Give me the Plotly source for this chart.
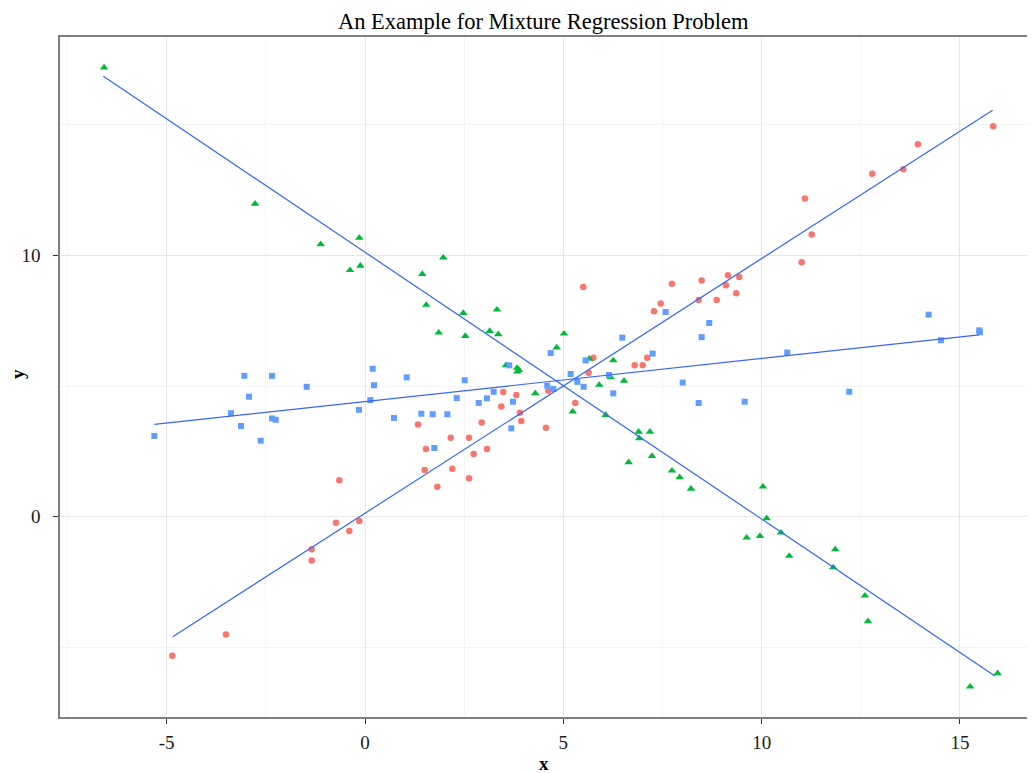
import plotly.graph_objects as go

# Group 1 (red circles)
red_x = [-4.858, -3.504, -1.344, -1.344, -0.731, -0.396, -0.144, -0.648, 1.336, 1.538,
         1.505, 1.823, 2.160, 2.201, 2.622, 2.622, 2.740, 2.942, 3.075, 3.436,
         3.486, 3.814, 3.907, 3.940, 4.563, 4.621, 5.301, 5.639, 5.503, 5.755,
         6.799, 7.000, 7.116, 7.285, 7.454, 7.739, 8.488, 8.412, 8.866, 9.100,
         9.151, 9.436, 9.360, 11.092, 11.261, 11.009, 12.788, 13.570, 13.940, 15.838]
red_y = [-5.32, -4.50, -1.24, -1.67, -0.23, -0.55, -0.16, 1.40, 3.53, 2.59,
         1.79, 1.15, 3.02, 1.84, 3.02, 1.47, 2.40, 3.60, 2.59, 4.22,
         4.77, 4.66, 3.98, 3.66, 3.40, 4.82, 4.35, 5.51, 8.79, 6.08,
         5.79, 5.79, 6.08, 7.86, 8.16, 8.91, 9.04, 8.29, 8.29, 8.85,
         9.24, 9.17, 8.55, 12.17, 10.80, 9.73, 13.12, 13.29, 14.25, 14.94]

# Group 2 (green triangles)
green_x = [-6.579, -2.773, -1.117, -0.144, -0.378, -0.118, 1.974, 1.444, 1.545, 2.478,
           3.327, 1.858, 2.528, 3.143, 3.360, 3.554, 3.832, 3.882, 3.839, 4.293,
           5.016, 4.832, 5.654, 6.259, 5.906, 6.194, 6.529, 5.236, 6.068, 6.899,
           7.184, 6.915, 7.235, 6.647, 7.739, 7.933, 8.218, 10.033, 10.126, 9.622,
           9.957, 10.487, 10.696, 11.855, 11.805, 12.604, 12.680, 15.258, 15.949]
green_y = [17.18, 11.97, 10.42, 10.67, 9.43, 9.60, 9.91, 9.28, 8.10, 7.79,
           7.92, 7.04, 6.91, 7.10, 6.98, 5.79, 5.69, 5.61, 5.55, 4.72,
           7.00, 6.47, 6.04, 5.98, 5.04, 5.33, 5.20, 4.02, 3.89, 3.25,
           3.25, 3.00, 2.32, 2.08, 1.76, 1.51, 1.07, 1.15, -0.06, -0.80,
           -0.74, -0.61, -1.50, -1.25, -1.94, -3.02, -4.00, -6.50, -5.99]

# Group 3 (blue squares)
blue_x = [-3.043, -2.344, -1.470, -2.924, -3.378, -3.126, -2.344, -2.251, -5.311, -2.629,
          0.194, 1.051, 2.513, 0.227, 0.134, -0.151, 0.731, 1.419, 1.707, 2.075,
          1.747, 2.312, 2.866, 3.075, 3.244, 3.731, 3.688, 4.595, 3.638, 4.681,
          5.185, 5.563, 6.151, 6.486, 7.252, 7.580, 8.488, 8.679, 10.645, 4.747,
          5.352, 5.513, 8.009, 6.259, 8.412, 9.572, 14.210, 14.520, 15.485, 15.503,
          12.208]
blue_y = [5.39, 5.39, 4.97, 4.59, 3.96, 3.47, 3.76, 3.71, 3.09, 2.91,
          5.66, 5.33, 5.22, 5.03, 4.46, 4.09, 3.78, 3.94, 3.92, 3.92,
          2.63, 4.54, 4.35, 4.53, 4.78, 4.40, 3.38, 5.01, 5.79, 6.26,
          5.46, 5.98, 5.42, 6.85, 6.24, 7.83, 6.87, 7.41, 6.28, 4.89,
          5.16, 4.97, 5.13, 4.72, 4.35, 4.40, 7.73, 6.75, 7.13, 7.06,
          4.78]

# Fitted regression lines (end points)
fit1_x = [-4.848, 15.823]
fit1_y = [-4.59, 15.55]
fit2_x = [-6.597, 15.881]
fit2_y = [16.85, -6.09]
fit3_x = [-5.311, 15.485]
fit3_y = [3.53, 6.96]

x_ticks = [-5, 0, 5, 10, 15]
y_ticks = [0, 10]

LINE = "#3366FF"
FONT = "Liberation Serif, Times New Roman, serif"

fig = go.Figure()
fig.add_trace(go.Scatter(x=red_x, y=red_y, mode="markers",
                         marker=dict(symbol="circle", size=6.5, color="#F8766D"),
                         showlegend=False))
fig.add_trace(go.Scatter(x=green_x, y=green_y, mode="markers",
                         marker=dict(symbol="triangle-up", size=7.5, color="#00BA38"),
                         showlegend=False))
fig.add_trace(go.Scatter(x=blue_x, y=blue_y, mode="markers",
                         marker=dict(symbol="square", size=6, color="#619CFF"),
                         showlegend=False))
for fx, fy in [(fit1_x, fit1_y), (fit2_x, fit2_y), (fit3_x, fit3_y)]:
    fig.add_trace(go.Scatter(x=fx, y=fy, mode="lines",
                             line=dict(color=LINE, width=1.2), showlegend=False))

axis_common = dict(
    automargin=False,
    showgrid=True, gridcolor="#E6E6E6", gridwidth=1.3,
    zeroline=False, showline=True, mirror=True,
    linecolor="#7F7F7F", linewidth=1.5,
    ticks="outside", ticklen=5, tickcolor="#333333", tickwidth=1.2,
    tickfont=dict(family=FONT, size=19, color="#1a1a1a"),
)

# page body adds an 8px offset; figure sized so the panel lands where the reference has it
PLOT_W = 1019 - 52
PLOT_H = 709 - 29

fig.update_layout(
    width=1027, height=765,
    margin=dict(l=52, r=8, t=29, b=56),
    paper_bgcolor="white", plot_bgcolor="white",
    font=dict(family=FONT, color="black"),
    xaxis=dict(range=[-7.69, 16.69], tickvals=x_ticks,
               ticktext=[str(v) for v in x_ticks], ticklabelstandoff=2,
               minor=dict(tickvals=[-7.5, -2.5, 2.5, 7.5, 12.5], ticks="",
                          showgrid=True, gridcolor="#F4F4F4", gridwidth=1),
               **axis_common),
    yaxis=dict(range=[-7.66, 18.35], tickvals=y_ticks,
               ticktext=[str(v) for v in y_ticks], ticklabelstandoff=9,
               minor=dict(tickvals=[-5, 5, 15], ticks="",
                          showgrid=True, gridcolor="#F4F4F4", gridwidth=1),
               **axis_common),
    annotations=[
        dict(text="An Example for Mixture Regression Problem", xref="paper", yref="paper",
             x=0.5, y=1 + 29 / PLOT_H, xanchor="center", yanchor="top", showarrow=False,
             borderpad=0,
             font=dict(family=FONT, size=22.5, color="black")),
        dict(text="<b>x</b>", xref="paper", yref="paper",
             x=0.5, y=-46 / PLOT_H, xanchor="center", yanchor="middle", showarrow=False,
             font=dict(family=FONT, size=19, color="black")),
        dict(text="<b>y</b>", xref="paper", yref="paper", textangle=-90,
             x=-43 / PLOT_W, y=1 - 337 / PLOT_H, xanchor="center", yanchor="middle",
             showarrow=False, font=dict(family=FONT, size=19, color="black")),
    ],
)

fig.write_html("out.html")
